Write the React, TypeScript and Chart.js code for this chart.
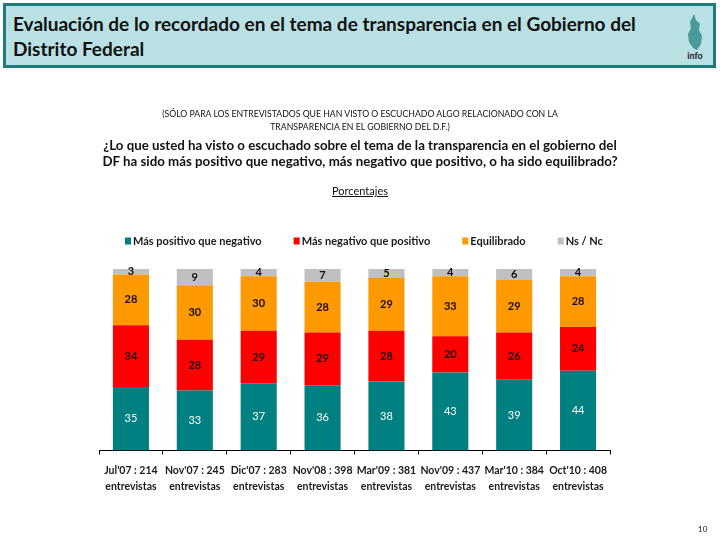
import React, { useEffect, useRef } from 'react';
import { Chart, registerables } from 'chart.js';

Chart.register(...registerables);

const periods = ["Jul'07 : 214", "Nov'07 : 245", "Dic'07 : 283", "Nov'08 : 398", "Mar'09 : 381", "Nov'09 : 437", "Mar'10 : 384", "Oct'10 : 408"];
const secondLine = 'entrevistas';
const seriesNames = ['Más positivo que negativo', 'Más negativo que positivo', 'Equilibrado', 'Ns / Nc'];
const positivo = [35, 33, 37, 36, 38, 43, 39, 44];
const negativo = [34, 28, 29, 29, 28, 20, 26, 24];
const equilibrado = [28, 30, 30, 28, 29, 33, 29, 28];
const nsnc = [3, 9, 4, 7, 5, 4, 6, 4];
const seriesColors = ['#008080', '#ff0000', '#ff9900', '#c0c0c0'];

const FONT = 'Lato, "Open Sans", sans-serif';

const valueLabels = {
  id: 'valueLabels',
  afterDatasetsDraw(chart: any) {
    const ctx = chart.ctx;
    ctx.save();
    ctx.textAlign = 'center';
    ctx.textBaseline = 'middle';
    chart.data.datasets.forEach((ds: any, i: number) => {
      const meta = chart.getDatasetMeta(i);
      meta.data.forEach((el: any, j: number) => {
        const v = ds.data[j];
        const y = (el.y + el.base) / 2;
        ctx.font = (i === 0 ? '' : 'bold ') + '11px ' + FONT;
        ctx.fillStyle = i === 0 ? '#ffffff' : '#1a0a0a';
        ctx.fillText(String(v), el.x, y);
      });
    });
    ctx.restore();
  },
};

const legendRow = {
  id: 'legendRow',
  afterDraw(chart: any) {
    const ctx = chart.ctx;
    ctx.save();
    ctx.font = 'bold 11px ' + FONT;
    ctx.textBaseline = 'middle';
    ctx.textAlign = 'left';
    let x = chart.chartArea.left + 26;
    const y = chart.chartArea.top - 28;
    chart.data.datasets.forEach((ds: any) => {
      ctx.fillStyle = ds.backgroundColor;
      ctx.fillRect(x, y - 3.5, 6, 7);
      x += 8;
      ctx.fillStyle = '#1a1a1a';
      ctx.fillText(ds.label, x, y);
      x += ctx.measureText(ds.label).width + 32;
    });
    ctx.restore();
  },
};

export default function App() {
  const ref = useRef<HTMLCanvasElement>(null);
  useEffect(() => {
    if (!ref.current) return;
    const values = [positivo, negativo, equilibrado, nsnc];
    const chart = new Chart(ref.current, {
      type: 'bar',
      data: {
        labels: periods.map((p) => [p, secondLine]),
        datasets: values.map((d, i) => ({
          label: seriesNames[i],
          data: d,
          backgroundColor: seriesColors[i],
          borderWidth: 0,
          barPercentage: 0.565,
          categoryPercentage: 1,
        })),
      },
      options: {
        responsive: false,
        animation: false,
        layout: { padding: { left: 99, right: 110, top: 269, bottom: 38 } },
        plugins: { legend: { display: false }, tooltip: { enabled: false } },
        scales: {
          x: {
            stacked: true,
            offset: true,
            grid: { display: true, drawOnChartArea: false, drawTicks: true, tickLength: 4, color: '#000', offset: true },
            border: { display: true, color: '#000', width: 1 },
            ticks: {
              color: '#1a1a1a',
              font: { family: FONT, size: 10.5, weight: 'bold', lineHeight: 1.5 },
              padding: 8,
              maxRotation: 0,
              autoSkip: false,
            },
          },
          y: { stacked: true, display: false, min: 0, max: 100 },
        },
      },
      plugins: [valueLabels, legendRow],
    });
    return () => chart.destroy();
  }, []);

  return (
    <div style={{ position: 'absolute', left: 0, top: 0, width: 720, height: 540, background: '#fff', overflow: 'hidden', fontFamily: FONT }}>
      <canvas ref={ref} width={720} height={540} style={{ position: 'absolute', left: 0, top: 0 }} />
      <div style={{ position: 'absolute', left: 3, top: 3, width: 713, height: 65, boxSizing: 'border-box', border: '3px solid #1e7b7b', background: '#b9e1e4' }}>
        <div style={{ position: 'absolute', left: 7, top: 5, fontWeight: 'bold', fontSize: 19, lineHeight: '25px', color: '#111' }}>
          Evaluación de lo recordado en el tema de transparencia en el Gobierno del
          <br />
          Distrito Federal
        </div>
        <svg style={{ position: 'absolute', left: 674, top: 6 }} width={30} height={52} viewBox="0 0 30 52">
          <path d="M14 2 L16 8 L20 12 L19 18 L22 24 L21 32 L17 38 L13 36 L9 30 L8 22 L11 16 L10 10 Z" fill="#4a9a9a" />
          <text x={15} y={47} textAnchor="middle" fontSize={9} fontWeight="bold" fill="#222" fontFamily={FONT}>info</text>
        </svg>
      </div>
      <div style={{ position: 'absolute', left: 0, width: 720, top: 107, textAlign: 'center', fontSize: 8.7, lineHeight: '13px', color: '#111' }}>
        (SÓLO PARA LOS ENTREVISTADOS QUE HAN VISTO O ESCUCHADO ALGO RELACIONADO CON LA
        <br />
        TRANSPARENCIA EN EL GOBIERNO DEL D.F.)
      </div>
      <div style={{ position: 'absolute', left: 0, width: 720, top: 137, textAlign: 'center', fontSize: 13.3, fontWeight: 'bold', lineHeight: '16px', color: '#111' }}>
        ¿Lo que usted ha visto o escuchado sobre el tema de la transparencia en el gobierno del
        <br />
        DF ha sido más positivo que negativo, más negativo que positivo, o ha sido equilibrado?
      </div>
      <div style={{ position: 'absolute', left: 0, width: 720, top: 184, textAlign: 'center', fontSize: 11, textDecoration: 'underline', color: '#111' }}>
        Porcentajes
      </div>
      <div style={{ position: 'absolute', left: 698, top: 524, fontSize: 8, color: '#111' }}>10</div>
    </div>
  );
}
